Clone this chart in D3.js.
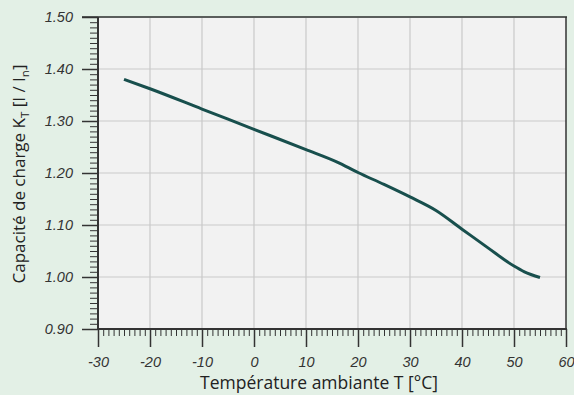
<!DOCTYPE html>
<html>
<head>
<meta charset="utf-8">
<script src="https://cdn.jsdelivr.net/npm/d3@7"></script>
<style>
  html, body { margin: 0; padding: 0; background: #e3f0e6; }
  svg { display: block; }
</style>
</head>
<body>
<script>
// Load capacity curve vs. ambient temperature
const temperatures = [-25, -20, -10, 0, 10, 16, 20, 25, 30, 35, 40, 45, 50, 52, 55];
const capacity     = [1.38, 1.362, 1.323, 1.284, 1.245, 1.221, 1.201, 1.178, 1.154, 1.128, 1.092, 1.056, 1.021, 1.010, 0.999];
const xTicks = [-30, -20, -10, 0, 10, 20, 30, 40, 50, 60];
const yTicks = [0.90, 1.00, 1.10, 1.20, 1.30, 1.40, 1.50];

const W = 574, H = 395;
const m = { left: 98, right: 8, top: 17, bottom: 66 };

const svg = d3.select("body").append("svg").attr("width", W).attr("height", H);

svg.append("rect").attr("width", W).attr("height", H).attr("fill", "#e3f0e6");

const x = d3.scaleLinear().domain([-30, 60]).range([m.left, W - m.right]);
const y = d3.scaleLinear().domain([0.9, 1.5]).range([H - m.bottom, m.top]);

const x0 = x.range()[0], x1 = x.range()[1];
const y0 = y.range()[0], y1 = y.range()[1];

const tickFont = "'Liberation Sans', Arial, sans-serif";
const titleFont = "'Open Sans', 'Noto Sans', sans-serif";

// plot area
svg.append("rect")
  .attr("x", x0).attr("y", y1)
  .attr("width", x1 - x0).attr("height", y0 - y1)
  .attr("fill", "#f2f2f2");

// grid
svg.append("g").selectAll("line").data(xTicks.slice(1, -1)).join("line")
  .attr("x1", d => x(d)).attr("x2", d => x(d))
  .attr("y1", y1).attr("y2", y0)
  .attr("stroke", "#c9c9c9").attr("stroke-width", 1.2);
svg.append("g").selectAll("line").data(yTicks.slice(1, -1)).join("line")
  .attr("x1", x0).attr("x2", x1)
  .attr("y1", d => y(d)).attr("y2", d => y(d))
  .attr("stroke", "#c9c9c9").attr("stroke-width", 1.2);

// top and right frame
svg.append("line").attr("x1", x0 - 16).attr("x2", x1 + 1).attr("y1", y1).attr("y2", y1)
  .attr("stroke", "#5a5e5c").attr("stroke-width", 2);
svg.append("line").attr("x1", x1).attr("x2", x1).attr("y1", y1).attr("y2", y0)
  .attr("stroke", "#333").attr("stroke-width", 1.5);

// x axis: minor ticks every degree, major every 10
const xMinor = d3.range(-30, 61, 1).filter(v => v % 10 !== 0);
svg.append("g").attr("transform", `translate(0,${y0})`)
  .call(d3.axisBottom(x).tickValues(xMinor).tickSize(7).tickFormat(""))
  .call(g => g.select(".domain").remove())
  .call(g => g.selectAll("line").attr("stroke", "#333").attr("stroke-width", 1));
svg.append("g").attr("transform", `translate(0,${y0})`)
  .call(d3.axisBottom(x).tickValues(xTicks).tickSize(18).tickPadding(10).tickFormat(d => String(d)))
  .call(g => g.select(".domain").remove())
  .call(g => g.selectAll("line").attr("stroke", "#333").attr("stroke-width", 1.5))
  .call(g => g.selectAll("text")
    .attr("font-family", tickFont)
    .attr("font-style", "italic").attr("font-size", 14.5).attr("fill", "#333"));

// y axis: minor ticks every 0.01, major every 0.10
const yMinor = d3.range(90, 151, 1).filter(v => v % 10 !== 0).map(v => v / 100);
svg.append("g").attr("transform", `translate(${x0},0)`)
  .call(d3.axisLeft(y).tickValues(yMinor).tickSize(8).tickFormat(""))
  .call(g => g.select(".domain").remove())
  .call(g => g.selectAll("line").attr("stroke", "#333").attr("stroke-width", 1));
svg.append("g").attr("transform", `translate(${x0},0)`)
  .call(d3.axisLeft(y).tickValues(yTicks).tickSize(16).tickPadding(9).tickFormat(d3.format(".2f")))
  .call(g => g.select(".domain").remove())
  .call(g => g.selectAll("line").attr("stroke", "#333").attr("stroke-width", 1.5))
  .call(g => g.selectAll("text")
    .attr("font-family", tickFont)
    .attr("font-style", "italic").attr("font-size", 14.5).attr("fill", "#333"));

// left and bottom axis lines
svg.append("line").attr("x1", x0).attr("x2", x0).attr("y1", y1).attr("y2", y0 + 1)
  .attr("stroke", "#333").attr("stroke-width", 2);
svg.append("line").attr("x1", x0).attr("x2", x1 + 1).attr("y1", y0).attr("y2", y0)
  .attr("stroke", "#333").attr("stroke-width", 2);

// curve
const line = d3.line()
  .x((d, i) => x(temperatures[i]))
  .y(d => y(d))
  .curve(d3.curveMonotoneX);
svg.append("path").datum(capacity)
  .attr("d", line)
  .attr("fill", "none")
  .attr("stroke", "#184f4d")
  .attr("stroke-width", 3);

// axis titles
svg.append("text")
  .attr("x", 319).attr("y", 389)
  .attr("text-anchor", "middle")
  .attr("font-family", titleFont)
  .attr("font-size", 17.5).attr("fill", "#222")
  .text("Température ambiante T [°C]");

const yt = svg.append("text")
  .attr("transform", `translate(25,174) rotate(-90)`)
  .attr("text-anchor", "middle")
  .attr("font-family", titleFont)
  .attr("font-size", 17).attr("fill", "#222");
yt.append("tspan").text("Capacité de charge K");
yt.append("tspan").attr("font-size", 11.5).attr("dy", 4).text("T");
yt.append("tspan").attr("dy", -4).text(" [I / I");
yt.append("tspan").attr("font-size", 11.5).attr("dy", 4).text("n");
yt.append("tspan").attr("dy", -4).text("]");
</script>
</body>
</html>
